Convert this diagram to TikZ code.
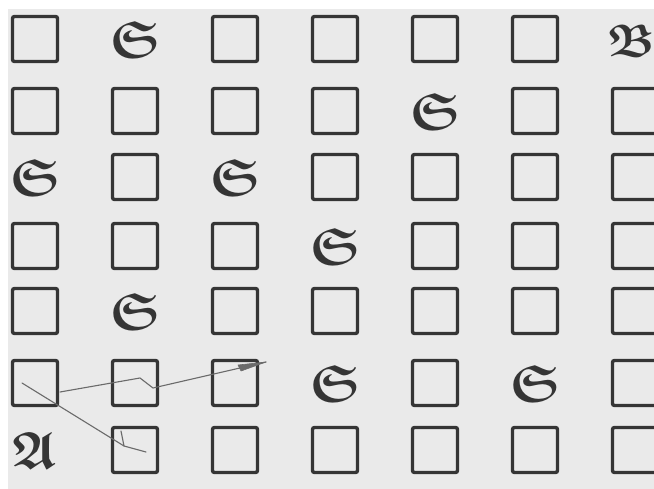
\documentclass[tikz,border=0pt]{standalone}
\usepackage{amsmath, amssymb}
\usepackage{graphicx}
\usepackage{xcolor}
\usetikzlibrary{arrows.meta, positioning, calc}
\definecolor{paper}{HTML}{EAEAEA}
\definecolor{ink}{HTML}{353535}
\definecolor{pencil}{HTML}{6A6A6A}
\newcommand{\frakglyph}[1]{\scalebox{2.1}{\Huge$\boldsymbol{\mathfrak{#1}}$}}

\begin{document}
\begin{tikzpicture}[
    x=1pt, y=-1pt,
    cellq/.style={draw=ink, line width=3.4pt, rounded corners=2pt,
                  minimum size=45pt, inner sep=0pt, node contents={}},
    cellS/.style={text=ink, inner sep=0pt, node contents={\frakglyph{S}}},
    cellA/.style={text=ink, inner sep=0pt, node contents={\frakglyph{A}}},
    cellB/.style={text=ink, inner sep=0pt, xshift=-4pt, yshift=-2pt,
                  node contents={\scalebox{0.88}{\frakglyph{B}}}},
    pen/.style={draw=pencil, line width=1.1pt, line cap=round, line join=round}
]
\useasboundingbox (0,0) rectangle (654,489);
\fill[white] (0,0) rectangle (654,489);
\fill[paper] (8,9) rectangle (654,489);

% grid of cells, row by row
\foreach \r/\yy/\cells in {0/39/{q,S,q,q,q,q,B},
                           1/111/{q,q,q,q,S,q,q},
                           2/177/{S,q,S,q,q,q,q},
                           3/246/{q,q,q,S,q,q,q},
                           4/311/{q,S,q,q,q,q,q},
                           5/383/{q,q,q,S,q,S,q},
                           6/450/{A,q,q,q,q,q,q}}
  \foreach \k [count=\c from 0] in \cells
    \node (c\r\c) at ({35+100*\c},\yy) [cell\k];

% pencil strokes
\coordinate (p1) at (22,383);
\coordinate (p2) at (146,452);
\coordinate (p3) at (60,392);
\coordinate (p4) at (266,362);
\draw[pen] (p1) -- (124,446) -- (p2);
\draw[pen] (121,431) -- (124,446);
\draw[pen] (p3) -- (140,378) -- (153,388) -- (p4);
\filldraw[pen, fill=pencil, line width=0.6pt] (p4) -- (238,365) -- (241,371) -- cycle;
\end{tikzpicture}
\end{document}
